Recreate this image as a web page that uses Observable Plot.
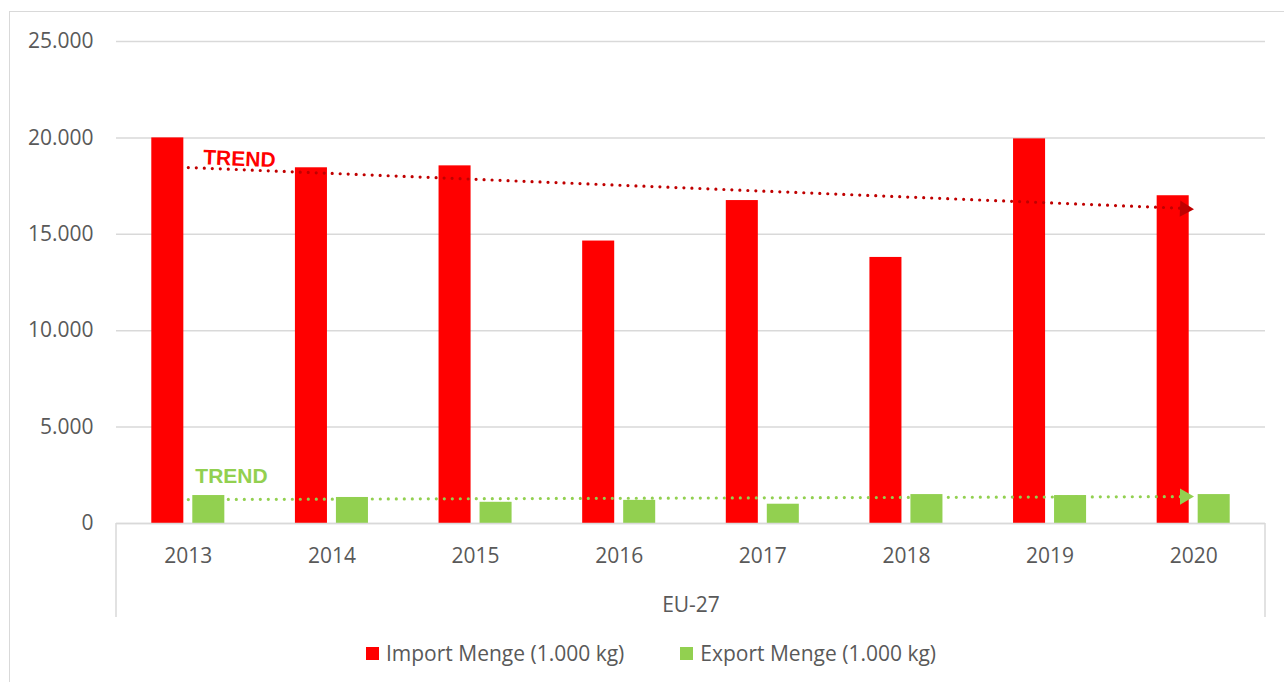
<!DOCTYPE html>
<html>
<head>
<meta charset="utf-8">
<script src="https://cdn.jsdelivr.net/npm/d3@7"></script>
<script src="https://cdn.jsdelivr.net/npm/@observablehq/plot@0.6"></script>
<style>
  html, body { margin: 0; padding: 0; background: #fff; }
  #wrap { position: relative; width: 1284px; height: 682px; overflow: hidden; background: #fff; font-family: "Open Sans", sans-serif; }
  #border { position: absolute; left: 9px; top: 11px; width: 1300px; height: 700px; border: 1.5px solid #D9D9D9; box-sizing: border-box; pointer-events: none; }
  #chart { position: absolute; left: 0; top: 0; }
  #legend { position: absolute; left: 9px; width: 1284px; top: 638px; height: 30px; display: flex; justify-content: center; align-items: center; gap: 56px; font-size: 21px; color: #595959; }
  .item { display: flex; align-items: center; gap: 7px; white-space: nowrap; }
  .sw { width: 13px; height: 13px; display: inline-block; }
</style>
</head>
<body>
<div id="wrap">
  <div id="chart"></div>
  <div id="legend"></div>
  <div id="border"></div>
</div>
<script>
// ---- data ----
const years = ["2013", "2014", "2015", "2016", "2017", "2018", "2019", "2020"];
const importMenge = [20000, 18450, 18550, 14650, 16750, 13800, 19950, 17000];
const exportMenge = [1450, 1350, 1100, 1200, 1000, 1500, 1450, 1500];
const yTicks = [0, 5000, 10000, 15000, 20000, 25000];
const seriesNames = ["Import Menge (1.000 kg)", "Export Menge (1.000 kg)"];
const seriesColors = ["#FF0000", "#92D050"];
const trendColors = ["#C00000", "#92D050"];
const groupLabel = "EU-27";
const trendLabel = "TREND";

const rows = years.map((year, i) => ({ year, imp: importMenge[i], exp: exportMenge[i] }));

function trend(vals) {
  const n = vals.length;
  const xs = d3.range(n);
  const mx = d3.mean(xs), my = d3.mean(vals);
  const b = d3.sum(xs, (x, i) => (x - mx) * (vals[i] - my)) / d3.sum(xs, x => (x - mx) ** 2);
  const a = my - b * mx;
  return [{ year: years[0], v: a }, { year: years[n - 1], v: a + b * (n - 1) }];
}
const impTrend = trend(importMenge);
const expTrend = trend(exportMenge);

const de = d3.formatLocale({ decimal: ",", thousands: ".", grouping: [3], currency: ["", " €"] });
const fmt = de.format(",");

function groupBox(index, scales, values, dim) {
  const g = d3.create("svg:g");
  const x0 = dim.marginLeft, x1 = dim.width - dim.marginRight, y0 = dim.height - dim.marginBottom;
  for (const x of [x0, x1]) {
    g.append("line").attr("x1", x).attr("x2", x).attr("y1", y0).attr("y2", y0 + 94)
      .attr("stroke", "#D9D9D9").attr("stroke-width", 1.5);
  }
  return g.node();
}

const plot = Plot.plot({
  width: 1284,
  height: 640,
  marginLeft: 116,
  marginRight: 19,
  marginTop: 41,
  marginBottom: 117,
  style: { fontFamily: "Open Sans, sans-serif", fontSize: "21px", color: "#595959", background: "transparent", overflow: "visible" },
  x: { domain: years, paddingInner: 0.777, paddingOuter: 0.3885, align: 0.5, round: false },
  y: { domain: [0, 25000] },
  marks: [
    Plot.ruleY(yTicks, { stroke: "#D9D9D9", strokeWidth: 1.5 }),
    Plot.axisY({ ticks: yTicks, tickSize: 0, tickPadding: 23, tickFormat: fmt, label: null, fontSize: 21 }),
    Plot.axisX({ tickSize: 0, tickPadding: 25, label: groupLabel, labelAnchor: "center", labelOffset: 88, labelArrow: "none", fontSize: 21 }),
    groupBox,
    Plot.barY(rows, { x: "year", y: "imp", fill: seriesColors[0], dx: -20.5 }),
    Plot.barY(rows, { x: "year", y: "exp", fill: seriesColors[1], dx: 20.5 }),
    Plot.line(impTrend, { x: "year", y: "v", stroke: trendColors[0], strokeWidth: 3.2, strokeDasharray: "0,8", strokeLinecap: "round" }),
    Plot.line(expTrend, { x: "year", y: "v", stroke: trendColors[1], strokeWidth: 3.2, strokeDasharray: "0,8", strokeLinecap: "round" }),
    Plot.dot([impTrend[1]], { x: "year", y: "v", symbol: "triangle", r: 6, fill: trendColors[0], stroke: "none", rotate: 92.3, dx: -9 }),
    Plot.dot([expTrend[1]], { x: "year", y: "v", symbol: "triangle", r: 6, fill: trendColors[1], stroke: "none", rotate: 90, dx: -9 }),
    Plot.text([impTrend[0]], { x: "year", y: "v", text: () => trendLabel, textAnchor: "start", dx: 15, dy: -10, rotate: 2.3, fill: "#FF0000", fontWeight: "bold", fontSize: 21, fontFamily: "Liberation Sans, Arial, sans-serif" }),
    Plot.text([expTrend[0]], { x: "year", y: "v", text: () => trendLabel, textAnchor: "start", dx: 7, dy: -23, fill: "#92D050", fontWeight: "bold", fontSize: 21, fontFamily: "Liberation Sans, Arial, sans-serif" }),
    Plot.ruleY([0], { stroke: "#D9D9D9", strokeWidth: 1.5 })
  ]
});
document.getElementById("chart").appendChild(plot);

const legend = d3.select("#legend");
seriesNames.forEach((name, i) => {
  const it = legend.append("div").attr("class", "item");
  it.append("span").attr("class", "sw").style("background", seriesColors[i]);
  it.append("span").text(name);
});
</script>
</body>
</html>
